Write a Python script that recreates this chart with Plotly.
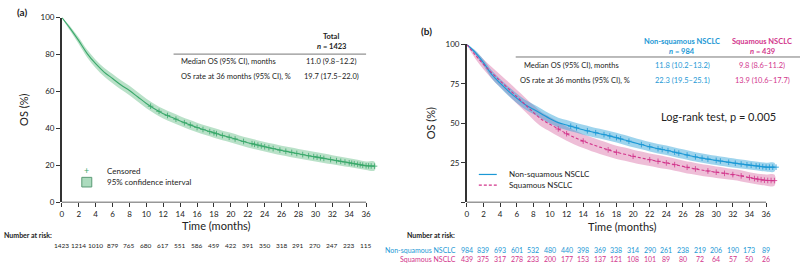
import numpy as np
import plotly.graph_objects as go

# ---------------- data ----------------
months = list(range(0, 38))

# Panel (a): overall
os_all = [100, 94, 87.5, 80.5, 75, 70.5, 67, 63.5, 60.5, 57, 53.5, 50.5, 48, 46, 44, 42.2, 40.5, 39,
          37.6, 36.2, 35, 33.6, 32.3, 31.2, 30.1, 29.1, 28.1, 27.2, 26.3, 25.4, 24.6, 23.8, 23, 22.2,
          21.4, 20.6, 19.8, 19.6]
os_all_lo = [100, 92.7, 85.7, 78.4, 72.7, 68.1, 64.5, 61, 57.9, 54.4, 50.9, 47.9, 45.4, 43.4, 41.4,
             39.6, 37.9, 36.4, 35, 33.6, 32.4, 31, 29.7, 28.6, 27.5, 26.5, 25.5, 24.6, 23.7, 22.9,
             22.1, 21.3, 20.6, 19.8, 19.1, 18.3, 17.5, 17.2]
os_all_hi = [100, 95.2, 89.2, 82.5, 77.2, 72.8, 69.4, 66, 63.1, 59.6, 56.1, 53.1, 50.6, 48.6, 46.6,
             44.8, 43.1, 41.6, 40.2, 38.8, 37.6, 36.2, 34.9, 33.8, 32.7, 31.7, 30.7, 29.8, 28.9, 28,
             27.2, 26.4, 25.5, 24.7, 23.9, 23, 22.1, 22]
cens_all = [10.5, 11.5, 12.5, 13.5, 14.5, 15.2, 16, 16.7, 17.5, 18, 18.3, 19, 19.8,
            20.5, 21.5, 22.5, 22.8, 23.2, 23.6, 24, 24.5, 25, 25.8, 26.5, 27.2, 27.8, 28.5, 29.2,
            29.8, 30.2, 30.6, 31, 31.8, 32.5, 33, 33.5, 34, 34.3, 34.6, 35, 35.3, 35.6, 36, 36.3,
            36.6, 37]
risk_all = [1423, 1214, 1010, 879, 765, 680, 617, 551, 586, 459, 422, 391, 350, 318, 291, 270, 247, 223, 115]

# Panel (b): non-squamous vs squamous
os_nsq = [100, 95, 88.5, 81, 75.5, 70.5, 66, 62, 59, 56, 53, 50.5, 49, 47.5, 46, 44.7, 43.5, 42.3, 41,
          39.5, 38, 36.6, 35.2, 34, 33, 31.8, 30.6, 29.4, 28.3, 27.4, 26.6, 25.8, 25, 24.3, 23.6, 23,
          22.3, 22.3]
os_nsq_lo = [100, 93.6, 86.5, 78.5, 72.8, 67.6, 63, 59, 55.9, 52.9, 49.9, 47.4, 45.9, 44.4, 42.9, 41.6,
             40.4, 39.2, 37.9, 36.4, 34.9, 33.6, 32.2, 31, 30, 28.8, 27.6, 26.4, 25.4, 24.5, 23.7,
             22.9, 22.1, 21.5, 20.8, 20.2, 19.5, 19.5]
os_nsq_hi = [100, 96.4, 90.5, 83.5, 78.2, 73.4, 69, 65, 62.1, 59.1, 56.1, 53.6, 52.1, 50.6, 49.1, 47.8,
             46.6, 45.4, 44.1, 42.6, 41.1, 39.6, 38.2, 37, 36, 34.8, 33.6, 32.4, 31.2, 30.3, 29.5,
             28.7, 27.9, 27.1, 26.4, 25.8, 25.1, 25.1]
os_sq = [100, 93.5, 87.5, 82, 77, 72, 67, 62, 57, 52.5, 49.5, 46.5, 43.5, 41, 38.8, 36.8, 35, 33.3,
         31.7, 30.5, 29.2, 28.1, 27, 26, 25, 23.9, 22.8, 21.7, 20.7, 19.9, 19.1, 18.4, 17.6, 16.8,
         15.7, 14.7, 13.9, 13.8]
os_sq_lo = [100, 91.2, 84.3, 78.3, 73, 67.8, 62.6, 57.5, 52.4, 47.9, 44.9, 41.9, 39, 36.5, 34.4, 32.4,
            30.7, 29, 27.5, 26.3, 25.1, 24, 23, 22, 21.1, 20, 19, 17.9, 17, 16.2, 15.5, 14.8, 14.1,
            13.3, 12.3, 11.4, 10.6, 10.5]
os_sq_hi = [100, 95.8, 90.7, 85.7, 81, 76.2, 71.4, 66.5, 61.6, 57.1, 54.1, 51.1, 48, 45.5, 43.2, 41.2,
            39.3, 37.6, 35.9, 34.7, 33.3, 32.2, 31, 30, 28.9, 27.8, 26.6, 25.5, 24.4, 23.6, 22.7, 22,
            21.1, 20.3, 19.1, 18.1, 17.7, 17.6]
cens_nsq = [12.5, 13.2, 14.5, 15.5, 16.5, 17.2, 18, 18.5, 19.5, 21, 22, 23, 23.5,
            24.2, 25, 25.5, 26.5, 27.5, 28.3, 29, 30, 30.5, 31.5, 32.3, 33, 33.7, 34.2, 34.8, 35.2,
            35.6, 36, 36.4, 36.8, 37.2]
cens_sq = [11, 12, 14, 17, 18, 20, 22, 23, 24, 25, 26.5, 27.5, 29, 30, 31, 32, 33, 34,
           34.6, 35, 35.4, 35.8, 36.2, 36.6, 37]
risk_nsq = [984, 839, 693, 601, 532, 480, 440, 398, 369, 338, 314, 290, 261, 238, 219, 206, 190, 173, 89]
risk_sq = [439, 375, 317, 278, 233, 200, 177, 153, 137, 121, 108, 101, 89, 80, 72, 64, 57, 50, 26]
risk_months = list(range(0, 37, 2))

# ---------------- style ----------------
W, H = 800, 269
FONT = "Lato"
GREEN, GREEN_F = "#3aa86b", "rgba(70,175,110,0.38)"
BLUE, BLUE_F = "#1b98d5", "rgba(40,160,215,0.45)"
PINK, PINK_F = "#d2358c", "rgba(205,70,140,0.35)"
TXT = "#222222"


def px(x):
    return x / W


def py(y):
    return 1 - y / H


fig = go.Figure()


def add_band(xa, ya, lo, hi, fill):
    fig.add_trace(go.Scatter(x=months + months[::-1], y=hi + lo[::-1], fill="toself",
                             fillcolor=fill, line=dict(width=0, shape="spline"), mode="lines",
                             hoverinfo="skip", showlegend=False, xaxis=xa, yaxis=ya))


def add_curve(xa, ya, vals, cens, color, dash="solid"):
    fig.add_trace(go.Scatter(x=months, y=vals, mode="lines",
                             line=dict(color=color, width=1.1, shape="spline", dash=dash),
                             showlegend=False, xaxis=xa, yaxis=ya))
    cy = np.interp(cens, months, vals)
    fig.add_trace(go.Scatter(x=cens, y=cy, mode="markers",
                             marker=dict(symbol="cross-thin", size=4, line=dict(color=color, width=0.8)),
                             showlegend=False, xaxis=xa, yaxis=ya))


add_band("x", "y", os_all_lo, os_all_hi, GREEN_F)
add_curve("x", "y", os_all, cens_all, GREEN)
add_band("x2", "y2", os_sq_lo, os_sq_hi, PINK_F)
add_band("x2", "y2", os_nsq_lo, os_nsq_hi, BLUE_F)
add_curve("x2", "y2", os_nsq, cens_nsq, BLUE)
add_curve("x2", "y2", os_sq, cens_sq, PINK, dash="3px,2px")

axis_common = dict(ticks="outside", ticklen=4, tickwidth=1.2, tickcolor="#333",
                   tickfont=dict(family=FONT, size=8, color=TXT), showgrid=False, zeroline=False)
xa_common = dict(axis_common, tickvals=list(range(0, 37, 2)), showline=False)

ydom = [py(205), py(13)]
ydom2 = [py(205), py(41)]
fig.update_layout(
    width=W, height=H, margin=dict(l=0, r=0, t=0, b=0),
    plot_bgcolor="white", paper_bgcolor="white",
    font=dict(family=FONT, color=TXT),
    xaxis=dict(xa_common, domain=[px(60), px(60 + 37.6 * 305 / 36)], range=[0, 37.6]),
    yaxis=dict(axis_common, domain=ydom, range=[0, 100], tickvals=[0, 20, 40, 60, 80, 100],
               showline=True, linecolor="#333", linewidth=1.5),
    xaxis2=dict(xa_common, domain=[px(466), px(466 + 37.8 * 300 / 36)], range=[0, 37.8],
                anchor="y2"),
    yaxis2=dict(axis_common, domain=ydom2, range=[0, 100], tickvals=[0, 25, 50, 75, 100],
                ticktext=["", "25", "50", "75", "100"], anchor="x2",
                showline=True, linecolor="#333", linewidth=1.5),
)

shapes = []
shapes.append(dict(type="line", xref="x", yref="y", x0=0, x1=36, y0=0, y1=0,
                   line=dict(color="#333", width=1.5)))
shapes.append(dict(type="line", xref="x2", yref="y2", x0=0, x1=36, y0=0, y1=0,
                   line=dict(color="#333", width=1.5)))
shapes.append(dict(type="line", xref="paper", yref="paper", x0=px(172), x1=px(365), y0=py(51), y1=py(51),
                   line=dict(color="#777", width=1)))
shapes.append(dict(type="line", xref="paper", yref="paper", x0=px(515), x1=px(800), y0=py(54), y1=py(54),
                   line=dict(color="#777", width=1)))
shapes.append(dict(type="rect", xref="paper", yref="paper", x0=px(80), x1=px(90), y0=py(189), y1=py(179),
                   fillcolor="rgba(70,175,110,0.45)", line=dict(color="#5a9a75", width=1)))
shapes.append(dict(type="line", xref="paper", yref="paper", x0=px(478), x1=px(496), y0=py(176), y1=py(176),
                   line=dict(color=BLUE, width=1.2)))
shapes.append(dict(type="line", xref="paper", yref="paper", x0=px(478), x1=px(496), y0=py(187), y1=py(187),
                   line=dict(color=PINK, width=1.2, dash="3px,2px")))
fig.update_layout(shapes=shapes)

ann = []


def T(x, y, text, size=7.5, color=TXT, xanchor="center", angle=0):
    ann.append(dict(x=px(x), y=py(y), xref="paper", yref="paper", text=text, showarrow=False,
                    xanchor=xanchor, yanchor="middle", textangle=angle,
                    font=dict(family=FONT, size=size, color=color)))


T(20, 7, "<b>(a)</b>", 10)
T(426, 27, "<b>(b)</b>", 10)
T(22, 109, "OS (%)", 11, angle=-90)
T(429, 123, "OS (%)", 11, angle=-90)
T(330, 33, "<b>Total</b>", 7.5)
T(330, 43, "<b><i>n</i> = 1423</b>", 7.5)
T(177, 59, "Median OS (95% CI), months", 7.5, xanchor="left")
T(330, 59, "11.0 (9.8–12.2)", 7.5)
T(177, 74, "OS rate at 36 months (95% CI), %", 7.5, xanchor="left")
T(330, 74, "19.7 (17.5–22.0)", 7.5)
T(682, 38, "<b>Non-squamous NSCLC</b>", 7.5, BLUE)
T(682, 48, "<b><i>n</i> = 984</b>", 7.5, BLUE)
T(762, 38, "<b>Squamous NSCLC</b>", 7.5, PINK)
T(762, 48, "<b><i>n</i> = 439</b>", 7.5, PINK)
T(521, 63, "Median OS (95% CI), months", 7.5, xanchor="left")
T(682, 63, "11.8 (10.2–13.2)", 7.5, BLUE)
T(762, 63, "9.8 (8.6–11.2)", 7.5, PINK)
T(517, 78, "OS rate at 36 months (95% CI), %", 7.5, xanchor="left")
T(682, 78, "22.3 (19.5–25.1)", 7.5, BLUE)
T(762, 78, "13.9 (10.6–17.7)", 7.5, PINK)
T(718, 116, "Log-rank test, p = 0.005", 11)
T(85, 172, "+", 9, GREEN)
T(103, 172, "Censored", 8, xanchor="left")
T(103, 184, "95% confidence interval", 8, xanchor="left")
T(506, 176, "Non-squamous NSCLC", 8, xanchor="left")
T(506, 187, "Squamous NSCLC", 8, xanchor="left")
T(215, 229, "Time (months)", 11)
T(622, 230, "Time (months)", 11)
T(0, 239, "<b>Number at risk:</b>", 7, xanchor="left")
T(404, 239, "<b>Number at risk:</b>", 7, xanchor="left")
T(457, 254, "Non-squamous NSCLC", 7, BLUE, xanchor="right")
T(457, 264, "Squamous NSCLC", 7, PINK, xanchor="right")

for m, v in zip(risk_months, risk_all):
    ann.append(dict(x=m, y=py(250), xref="x", yref="paper", text=str(v), showarrow=False,
                    xanchor="center", yanchor="middle", font=dict(family=FONT, size=6.5, color=TXT)))
for m, v in zip(risk_months, risk_nsq):
    ann.append(dict(x=m, y=py(254), xref="x2", yref="paper", text=str(v), showarrow=False,
                    xanchor="center", yanchor="middle", font=dict(family=FONT, size=7, color=BLUE)))
for m, v in zip(risk_months, risk_sq):
    ann.append(dict(x=m, y=py(264), xref="x2", yref="paper", text=str(v), showarrow=False,
                    xanchor="center", yanchor="middle", font=dict(family=FONT, size=7, color=PINK)))

fig.update_layout(annotations=ann)
fig.write_html("out.html", config={"displayModeBar": False},
               post_script="document.body.style.margin='0';document.body.style.overflow='hidden';")
